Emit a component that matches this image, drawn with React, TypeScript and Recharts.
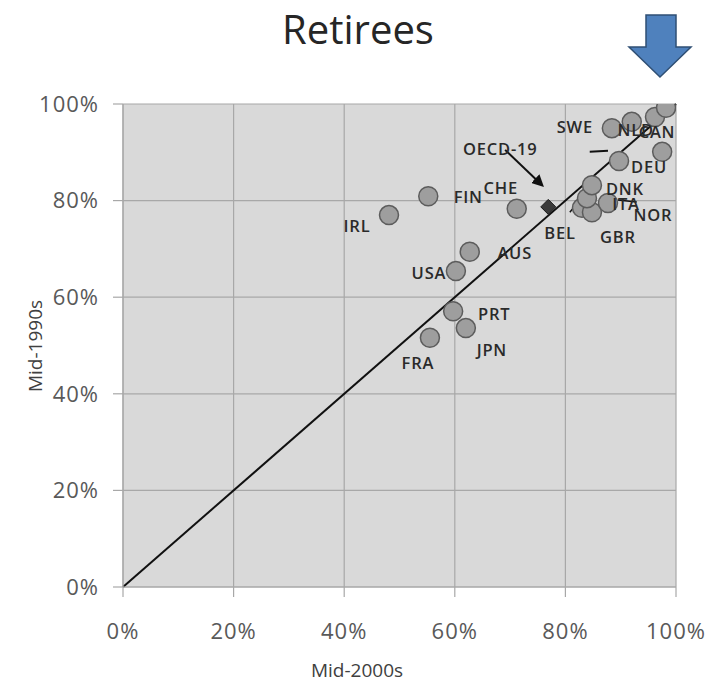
import React from 'react';
import {
  ScatterChart,
  Scatter,
  XAxis,
  YAxis,
  CartesianGrid,
  ReferenceLine,
} from 'recharts';

// ---- data ----
const countries = ['IRL', 'FIN', 'CHE', 'AUS', 'USA', 'PRT', 'JPN', 'FRA', 'BEL', 'GBR', 'NOR', 'ITA', 'DNK', 'DEU', 'CZE', 'SWE', 'NLD', 'CAN', 'NZL'];
const mid2000s = [48.1, 55.2, 71.2, 62.7, 60.2, 59.7, 62.0, 55.5, 83.0, 84.8, 83.9, 87.7, 84.8, 89.7, 97.5, 88.4, 92.0, 96.2, 98.2];
const mid1990s = [77.0, 80.9, 78.3, 69.4, 65.4, 57.1, 53.6, 51.6, 78.5, 77.6, 80.5, 79.5, 83.2, 88.2, 90.1, 95.0, 96.3, 97.3, 99.2];

const oecdName = ['OECD-19'];
const oecd2000s = [76.9];
const oecd1990s = [78.7];

const tickValues = [0, 20, 40, 60, 80, 100];

const chartTitle = 'Retirees';
const xTitle = 'Mid-2000s';
const yTitle = 'Mid-1990s';

// label placement (pixel offsets from the marker centre)
const labelOffsets: Record<string, [number, number]> = {
  IRL: [-32, 10],
  FIN: [40, 0],
  CHE: [-16, -21],
  AUS: [45, 1],
  USA: [-27, 1],
  PRT: [41, 2],
  JPN: [26, 21],
  FRA: [-12, 25],
  BEL: [-22, 25],
  GBR: [26, 24],
  NOR: [66, 16],
  ITA: [18, 0],
  DNK: [33, 3],
  DEU: [30, 6],
  CZE: [36, 2],
  SWE: [-37, -2],
  NLD: [4, 8],
  CAN: [2, 14],
  NZL: [-32, -18],
  'OECD-19': [-48, -58],
};

const points = countries.map((name, i) => ({ name, x: mid2000s[i], y: mid1990s[i] }));
const oecdPoints = oecdName.map((name, i) => ({ name, x: oecd2000s[i], y: oecd1990s[i] }));

const W = 720;
const H = 689;
const PLOT_LEFT = 123;
const PLOT_RIGHT = 676;
const PLOT_TOP = 104;
const PLOT_BOTTOM = 587;
const X_AXIS_H = 60;

const font = '"Open Sans", "Liberation Sans", sans-serif';

const CircleShape = (props: any) => {
  const { cx, cy } = props;
  if (cx == null || cy == null) return null;
  return <circle cx={cx} cy={cy} r={9.5} fill="#9E9E9E" stroke="#5C5C5C" strokeWidth={1.5} />;
};

const DiamondShape = (props: any) => {
  const { cx, cy } = props;
  if (cx == null || cy == null) return null;
  const r = 7.5;
  return (
    <polygon
      points={`${cx},${cy - r} ${cx + r},${cy} ${cx},${cy + r} ${cx - r},${cy}`}
      fill="#3A3A3A"
      stroke="#1A1A1A"
      strokeWidth={1}
    />
  );
};

const LabelShape = (props: any) => {
  const { cx, cy, payload } = props;
  if (cx == null || cy == null || !payload) return null;
  const off = labelOffsets[payload.name] || [0, -16];
  return (
    <text
      x={cx + off[0]}
      y={cy + off[1]}
      textAnchor="middle"
      dominantBaseline="central"
      fontFamily={font}
      fontSize={16.5}
      fontWeight={600}
      letterSpacing={0.8}
      fill="#2A2A2A"
    >
      {payload.name}
    </text>
  );
};

const pct = (v: number) => `${v}%`;

const tickStyle = { fill: '#595959', fontSize: 22, fontFamily: font, letterSpacing: 1 };

export default function App() {
  return (
    <div style={{ position: 'absolute', left: 0, top: 0, width: W, height: H, background: '#ffffff' }}>
      <ScatterChart
        width={W}
        height={H}
        margin={{ top: PLOT_TOP, right: W - PLOT_RIGHT, bottom: H - PLOT_BOTTOM - X_AXIS_H, left: 0 }}
      >
        <CartesianGrid stroke="#A8A8A8" strokeWidth={1.2} fill="#D9D9D9" fillOpacity={1} />
        <XAxis
          type="number"
          dataKey="x"
          domain={[0, 100]}
          ticks={tickValues}
          tickFormatter={pct}
          height={X_AXIS_H}
          tickSize={10}
          tickMargin={26}
          axisLine={{ stroke: '#A8A8A8', strokeWidth: 1.2 }}
          tickLine={{ stroke: '#A8A8A8', strokeWidth: 1.2 }}
          tick={tickStyle}
          allowDataOverflow
        />
        <YAxis
          type="number"
          dataKey="y"
          domain={[0, 100]}
          ticks={tickValues}
          tickFormatter={pct}
          width={PLOT_LEFT}
          tickSize={10}
          tickMargin={14}
          axisLine={{ stroke: '#A8A8A8', strokeWidth: 1.2 }}
          tickLine={{ stroke: '#A8A8A8', strokeWidth: 1.2 }}
          tick={tickStyle}
          allowDataOverflow
        />
        <ReferenceLine
          segment={[{ x: 0, y: 0 }, { x: 100, y: 100 }]}
          stroke="#111111"
          strokeWidth={2}
          ifOverflow="visible"
        />
        {/* leader lines */}
        <ReferenceLine segment={[{ x: 69.1, y: 90.5 }, { x: 75.6, y: 83.4 }]} stroke="#111" strokeWidth={2} markerEnd="url(#arrowhead)" ifOverflow="visible" />
        <ReferenceLine segment={[{ x: 84.4, y: 90.1 }, { x: 87.7, y: 90.3 }]} stroke="#111" strokeWidth={2} ifOverflow="visible" />
        <ReferenceLine segment={[{ x: 80.8, y: 77.6 }, { x: 82.6, y: 80.1 }]} stroke="#111" strokeWidth={1.5} ifOverflow="visible" />
        <ReferenceLine segment={[{ x: 89.5, y: 80.1 }, { x: 92.9, y: 79.7 }]} stroke="#111" strokeWidth={1.5} ifOverflow="visible" />
        <Scatter data={points} shape={CircleShape} isAnimationActive={false} />
        <Scatter data={oecdPoints} shape={DiamondShape} isAnimationActive={false} />
        <Scatter data={[...points, ...oecdPoints]} shape={LabelShape} isAnimationActive={false} />
      </ScatterChart>
      <svg
        width={W}
        height={H}
        style={{ position: 'absolute', left: 0, top: 0, pointerEvents: 'none' }}
      >
        <defs>
          <marker id="arrowhead" markerWidth="6" markerHeight="6" refX="4" refY="3" orient="auto" markerUnits="strokeWidth">
            <path d="M0,0 L6,3 L0,6 Z" fill="#111" />
          </marker>
        </defs>
        <text x={358} y={28} textAnchor="middle" dominantBaseline="central" fontFamily={font} fontSize={40} fill="#262626">
          {chartTitle}
        </text>
        <polygon
          points="646,15 676,15 676,47 691,47 660,77 629,47 646,47"
          fill="#4F81BD"
          stroke="#2F4F74"
          strokeWidth={1.5}
        />
        <text x={357} y={670} textAnchor="middle" dominantBaseline="central" fontFamily={font} fontSize={19} fill="#404040">
          {xTitle}
        </text>
        <text
          x={35}
          y={346}
          textAnchor="middle"
          dominantBaseline="central"
          fontFamily={font}
          fontSize={19}
          fill="#404040"
          transform="rotate(-90 35 346)"
        >
          {yTitle}
        </text>
      </svg>
    </div>
  );
}
